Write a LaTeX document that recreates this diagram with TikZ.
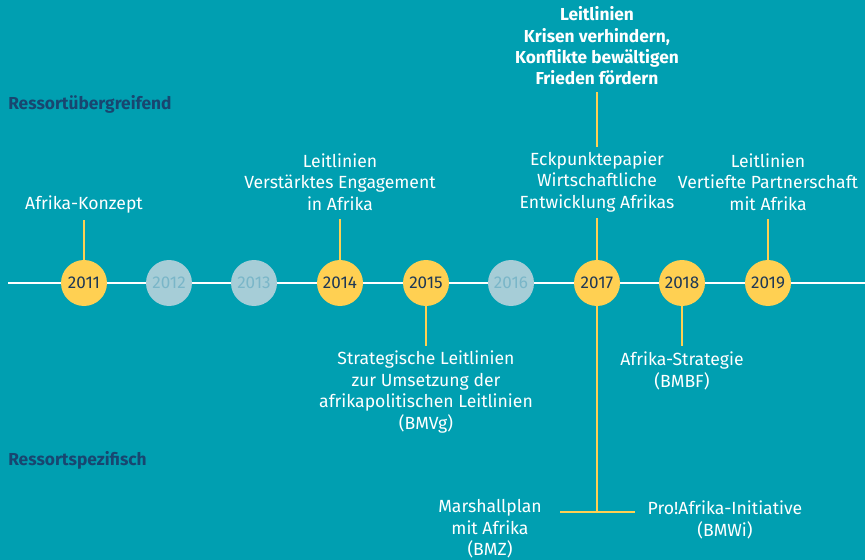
\documentclass[tikz,border=0pt]{standalone}
\usepackage{fontspec}
\setmainfont{Fira Sans}
\definecolor{bg_teal}{RGB}{0, 159, 177}
\definecolor{yr_yellow}{RGB}{255, 208, 82}
\definecolor{yr_text}{RGB}{30, 56, 86}
\definecolor{yr_faded}{RGB}{166, 205, 215}
\definecolor{yr_fadedtext}{RGB}{122, 182, 200}
\definecolor{head_blue}{RGB}{24, 70, 112}
\tikzstyle{yr}=[circle,fill=yr_yellow,text=yr_text,inner sep=0pt,
  minimum size=34.5pt,font=\fontsize{12.8}{14}\selectfont]
\tikzstyle{yrf}=[yr,fill=yr_faded,text=yr_fadedtext]
\tikzstyle{lbl}=[align=center,text=white,inner sep=0pt,
  font=\fontsize{13.2}{16.2}\selectfont]
\tikzstyle{blbl}=[lbl,font=\fontsize{13}{16}\selectfont\bfseries]
\tikzstyle{head}=[anchor=west,inner sep=0pt,text=head_blue,
  font=\fontsize{13}{15}\selectfont\bfseries]
\tikzstyle{tl}=[draw=white,line width=1.5pt]
\tikzstyle{con}=[draw=yr_yellow,line width=1.5pt]
\tikzstyle{none}=[inner sep=0pt]

\begin{document}
\begin{tikzpicture}[x=0.75pt,y=-0.75pt]
        \fill [bg_teal] (0, 0) rectangle (865, 560);
        \useasboundingbox (0, 0) rectangle (865, 560);
		\node [style=head] (0) at (8, 104) {Ressortübergreifend};
		\node [style=head] (1) at (8, 460) {Ressortspezifisch};
		\node [style=none] (2) at (8, 283) {};
		\node [style=none] (3) at (865, 283) {};
		\draw [style=tl] (2.center) to (3.center);
		\node [style=yr] (11) at (84, 283) {2011};
		\node [style=yrf] (12) at (169, 283) {2012};
		\node [style=yrf] (13) at (254, 283) {2013};
		\node [style=yr] (14) at (340, 283) {2014};
		\node [style=yr] (15) at (426, 283) {2015};
		\node [style=yrf] (16) at (511, 283) {2016};
		\node [style=yr] (17) at (597, 283) {2017};
		\node [style=yr] (18) at (682, 283) {2018};
		\node [style=yr] (19) at (768, 283) {2019};
		\node [style=lbl] (21) at (84, 205) {Afrika-Konzept};
		\node [style=lbl] (24) at (340, 182) {Leitlinien\\Verstärktes Engagement\\in Afrika};
		\node [style=lbl] (25) at (426, 392) {Strategische Leitlinien\\zur Umsetzung der\\afrikapolitischen Leitlinien\\(BMVg)};
		\node [style=blbl] (26) at (597, 46) {Leitlinien\\Krisen verhindern,\\Konflikte bewältigen\\Frieden fördern};
		\node [style=lbl] (27) at (597, 182) {Eckpunktepapier\\Wirtschaftliche\\Entwicklung Afrikas};
		\node [style=lbl] (28) at (682, 371) {Afrika-Strategie\\(BMBF)};
		\node [style=lbl] (29) at (768, 182) {Leitlinien\\Vertiefte Partnerschaft\\mit Afrika};
		\node [style=lbl] (30) at (490, 529) {Marshallplan\\mit Afrika\\(BMZ)};
		\node [style=lbl] (31) at (725, 520) {Pro!Afrika-Initiative\\(BMWi)};
		\node [style=none] (40) at (84, 220) {};
		\node [style=none] (41) at (340, 219) {};
		\node [style=none] (42) at (426, 346) {};
		\node [style=none] (43) at (597, 218) {};
		\node [style=none] (44) at (597, 147) {};
		\node [style=none] (45) at (597, 92) {};
		\node [style=none] (46) at (597, 512) {};
		\node [style=none] (47) at (560, 512) {};
		\node [style=none] (48) at (635, 512) {};
		\node [style=none] (49) at (682, 346) {};
		\node [style=none] (50) at (768, 219) {};
		\draw [style=con] (11) to (40.center);
		\draw [style=con] (14) to (41.center);
		\draw [style=con] (15) to (42.center);
		\draw [style=con] (17) to (43.center);
		\draw [style=con] (44.center) to (45.center);
		\draw [style=con] (17) to (46.center);
		\draw [style=con] (47.center) to (48.center);
		\draw [style=con] (18) to (49.center);
		\draw [style=con] (19) to (50.center);
    \end{tikzpicture}
\end{document}
